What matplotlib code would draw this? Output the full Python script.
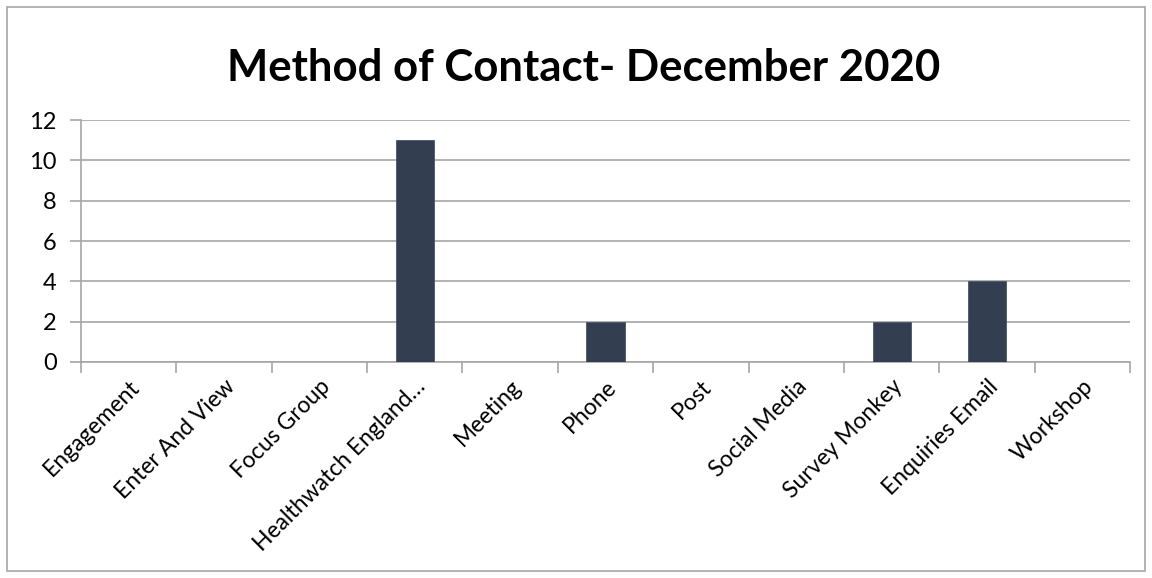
import matplotlib
matplotlib.use("Agg")
import matplotlib.pyplot as plt
from matplotlib.patches import Rectangle

categories = ["Engagement", "Enter And View", "Focus Group", "Healthwatch England…",
              "Meeting", "Phone", "Post", "Social Media", "Survey Monkey",
              "Enquiries Email", "Workshop"]
values = [0, 0, 0, 11, 0, 2, 0, 0, 2, 4, 0]
yticks = [0, 2, 4, 6, 8, 10, 12]
title = "Method of Contact- December 2020"

W, H = 1152, 578
fig = plt.figure(figsize=(W / 100, H / 100), dpi=100)
plt.rcParams['font.family'] = ['Lato', 'DejaVu Sans']

# outer chart border
fig.patches.append(Rectangle((7 / W, 7 / H), (1145 - 7) / W, (571 - 7) / H,
                             transform=fig.transFigure, fill=False,
                             edgecolor="#A6A6A6", linewidth=1.2))

left, right, top, bottom = 81, 1130, 120, 362
ax = fig.add_axes([left / W, 1 - bottom / H, (right - left) / W, (bottom - top) / H])

x = list(range(len(categories)))
ax.bar(x, values, width=0.4, color="#333F50", edgecolor="#4A5568", linewidth=0.6, zorder=3)
ax.set_xlim(-0.5, len(categories) - 0.5)
ax.set_ylim(0, 12)
ax.set_yticks(yticks)
ax.set_yticklabels([str(v) for v in yticks], fontsize=17)
ax.grid(axis="y", color="#A6A6A6", linewidth=1.2, zorder=0)

ax.set_xticks([i - 0.5 for i in range(len(categories) + 1)], minor=False)
ax.set_xticklabels([])
ax.set_xticks(x, minor=True)
ax.set_xticklabels(categories, minor=True, rotation=45, ha="right", va="top",
                   rotation_mode="anchor", fontsize=16.5)
ax.tick_params(axis="x", which="major", length=8, color="#A6A6A6", width=1.2, direction="out")
ax.tick_params(axis="x", which="minor", length=0, pad=10)
ax.tick_params(axis="y", length=8, color="#A6A6A6", width=1.2, pad=9.5)

for s in ["top", "right"]:
    ax.spines[s].set_visible(False)
ax.spines["left"].set_color("#A6A6A6")
ax.spines["left"].set_linewidth(1.2)
ax.spines["bottom"].set_color("#A6A6A6")
ax.spines["bottom"].set_linewidth(1.2)

fig.text(0.507, 1 - 68 / H, title, ha="center", va="center", fontsize=31.5, fontweight="bold")

fig.savefig("out.png", dpi=100)
